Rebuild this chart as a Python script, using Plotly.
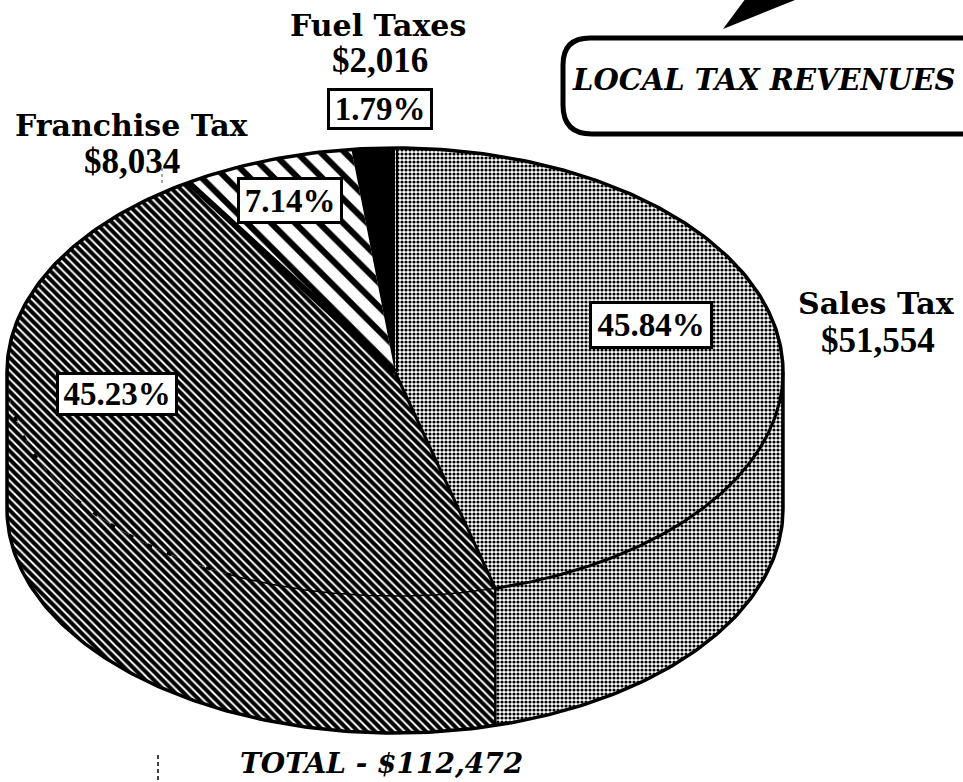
import numpy as np
import plotly.graph_objects as go

# Data (clockwise from 12 o'clock)
categories = ["Sales Tax", "Other", "Franchise Tax", "Fuel Taxes"]
values = [51554, 50868, 8034, 2016]
pct_labels = ["45.84%", "45.23%", "7.14%", "1.79%"]
word_labels = ["Fuel Taxes", "Franchise Tax", "Sales Tax"]
amount_labels = ["$2,016", "$8,034", "$51,554"]
total_label = "TOTAL - $112,472"
callout_label = "LOCAL TAX REVENUES"

# Pie geometry in page pixels
CX, CY, A, B, DEPTH = 395, 372, 388, 224, 137
WORD_FONT = "DejaVu Serif, serif"
NUM_FONT = "Liberation Serif, serif"

patterns = [
    dict(shape=".", size=4, solidity=0.5, fgcolor="black", bgcolor="white", fgopacity=1),
    dict(shape="\\", size=6, solidity=0.68, fgcolor="black", bgcolor="white", fgopacity=1),
    dict(shape="\\", size=17, solidity=0.36, fgcolor="black", bgcolor="white", fgopacity=1),
    None,
]


def arc(start, stop, dy=0.0, n=200):
    t = np.radians(np.linspace(start, stop, n))
    return CX + A * np.sin(t), CY + dy - B * np.cos(t)


def add_poly(fig, x, y, pattern):
    kw = dict(fillpattern=pattern, fillcolor="white") if pattern else dict(fillcolor="black")
    fig.add_trace(go.Scatter(x=list(x), y=list(y), mode="lines", fill="toself",
                             line=dict(color="black", width=0),
                             hoverinfo="skip", showlegend=False, **kw))


def add_line(fig, x, y, width, dash="solid"):
    fig.add_trace(go.Scatter(x=list(x), y=list(y), mode="lines",
                             line=dict(color="black", width=width, dash=dash),
                             hoverinfo="skip", showlegend=False))


fig = go.Figure()
angles = np.concatenate([[0], np.cumsum(values) / np.sum(values) * 360])

# Side wall: only the part of each slice between 90 and 270 degrees
for i in range(len(values)):
    s, e = max(angles[i], 90), min(angles[i + 1], 270)
    if e > s:
        x1, y1 = arc(s, e)
        x2, y2 = arc(e, s, DEPTH)
        add_poly(fig, np.r_[x1, x2, x1[0]], np.r_[y1, y2, y1[0]], patterns[i])

# Top face
for i in range(len(values)):
    x1, y1 = arc(angles[i], angles[i + 1])
    add_poly(fig, np.r_[CX, x1, CX], np.r_[CY, y1, CY], patterns[i])

# Outlines
x1, y1 = arc(-90, 90)
x2, y2 = arc(90, 270, DEPTH)
add_line(fig, np.r_[x1, x2, x1[0]], np.r_[y1, y2, y1[0]], 3.5)
x1, y1 = arc(90, angles[1])
add_line(fig, x1, y1, 3)
x1, y1 = arc(angles[1], 205)
add_line(fig, x1, y1, 1.5)
x1, y1 = arc(205, 262)
add_line(fig, x1, y1, 3, "5px,16px")
ex, ey = arc(angles[1], angles[1], n=1)
add_line(fig, [ex[0], ex[0]], [ey[0], ey[0] + DEPTH], 2.5)
for k, w in zip([1, 2], [3, 6]):
    ex, ey = arc(angles[k], angles[k], n=1)
    add_line(fig, [CX, ex[0]], [CY, ey[0]], w)
ex, ey = arc(0, 0, n=1)
add_line(fig, [CX + 2, ex[0] + 2], [CY, ey[0]], 2)

# Label boxes: centre x, centre y, width, height
box_pos = [(651, 325, 118, 42), (117, 394, 116, 38), (290, 200, 100, 41), (380, 109, 100, 36)]
annotations = []
for lab, (x, y, w, h) in zip(pct_labels, box_pos):
    annotations.append(dict(x=x, y=y, text=f"<b>{lab}</b>", showarrow=False, width=w, height=h,
                            font=dict(family=NUM_FONT, size=33, color="black"),
                            bgcolor="white", bordercolor="black", borderwidth=3, borderpad=0))

word_pos = [(378, 25), (132, 125), (876, 303)]
for t, (x, y) in zip(word_labels, word_pos):
    annotations.append(dict(x=x, y=y, text=f"<b>{t}</b>", showarrow=False,
                            font=dict(family=WORD_FONT, size=30, color="black")))
amount_pos = [(380, 60), (132, 161), (878, 340)]
for t, (x, y) in zip(amount_labels, amount_pos):
    annotations.append(dict(x=x, y=y, text=f"<b>{t}</b>", showarrow=False,
                            font=dict(family=NUM_FONT, size=35, color="black")))

annotations.append(dict(x=381, y=763, text=f"<b><i>{total_label}</i></b>", showarrow=False,
                        font=dict(family=WORD_FONT, size=28, color="black")))
annotations.append(dict(x=570, y=80, xanchor="left", text=f"<b><i>{callout_label}</i></b>",
                        showarrow=False, font=dict(family=WORD_FONT, size=29, color="black")))

shapes = [
    dict(type="path", line=dict(color="black", width=5), fillcolor="white", layer="below",
         path="M 975 38 L 590 38 Q 563 38 563 65 L 563 105 Q 563 134 592 134 L 975 134"),
    dict(type="path", line=dict(width=0), fillcolor="black", path="M 723 29 L 746 -2 L 800 -2 Z"),
    dict(type="line", x0=158, x1=158, y0=755, y1=782, line=dict(color="black", width=1.5, dash="4px,3px")),
    dict(type="line", x0=162, x1=162, y0=168, y1=185, line=dict(color="#555555", width=1, dash="3px,3px")),
]

fig.update_layout(width=963, height=782, margin=dict(l=0, r=0, t=0, b=0),
                  paper_bgcolor="white", plot_bgcolor="white", showlegend=False,
                  xaxis=dict(range=[0, 963], visible=False, fixedrange=True),
                  yaxis=dict(range=[782, 0], visible=False, fixedrange=True),
                  annotations=annotations, shapes=shapes)
fig.write_html("out.html", config=dict(displayModeBar=False),
               post_script="document.body.style.margin='0';document.body.style.overflow='hidden';")
